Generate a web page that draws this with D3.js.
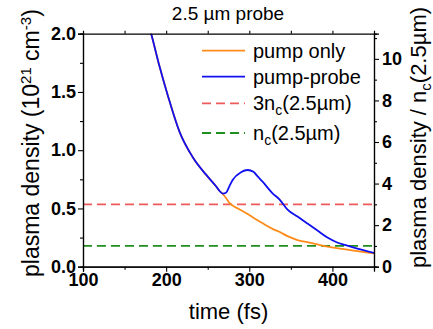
<!DOCTYPE html>
<html>
<head>
<meta charset="utf-8">
<script src="https://cdn.jsdelivr.net/npm/d3@7"></script>
<style>
  body { margin: 0; background: #fff; }
  svg text { font-family: "Liberation Sans", Arial, sans-serif; }
</style>
</head>
<body>
<svg id="chart" width="433" height="329"></svg>
<script>
// time axis (fs), shared by both curves
const timeFs = [178, 182, 192, 202, 216, 232, 248, 260, 264, 268, 272, 276, 280, 290, 298,
  305, 310, 316, 328, 336, 346, 358, 370, 382, 394, 405, 416, 430, 450];
// plasma density, 10^21 cm^-3
const pumpProbe = [2.10, 2.00, 1.72, 1.47, 1.16, 0.94, 0.79, 0.69, 0.652, 0.628, 0.635, 0.69, 0.745, 0.81, 0.83,
  0.815, 0.775, 0.73, 0.63, 0.58, 0.49, 0.43, 0.37, 0.31, 0.25, 0.21, 0.185, 0.155, 0.118];
const pumpOnly = [2.10, 2.00, 1.72, 1.47, 1.16, 0.94, 0.79, 0.69, 0.652, 0.625, 0.59, 0.548, 0.525, 0.485, 0.452,
  0.42, 0.398, 0.373, 0.325, 0.30, 0.262, 0.229, 0.21, 0.192, 0.172, 0.16, 0.148, 0.134, 0.114];
const nc = 0.1784;            // critical density at 2.5 um
const refLevels = [3 * nc, nc];

const xTicks = [100, 200, 300, 400];
const yTicks = [0, 0.5, 1.0, 1.5, 2.0];
const y2Ticks = [0, 2, 4, 6, 8, 10];

const margin = { top: 33.7, right: 59, bottom: 62.3, left: 83 };
const width = 433 - margin.left - margin.right;
const height = 329 - margin.top - margin.bottom;

const svg = d3.select('#chart');
const g = svg.append('g').attr('transform', `translate(${margin.left},${margin.top})`);

const x = d3.scaleLinear().domain([100, 450]).range([0, width]);
const y = d3.scaleLinear().domain([0, 2]).range([height, 0]);
const y2 = d3.scaleLinear().domain([0, 2 / nc]).range([height, 0]);

g.append('clipPath').attr('id', 'clip')
  .append('rect').attr('width', width).attr('height', height);

// reference levels
const refColors = ['#ef5a5a', '#1f8f1f'];
g.selectAll('.ref').data(refLevels).enter().append('line')
  .attr('x1', 0).attr('x2', width)
  .attr('y1', d => y(d)).attr('y2', d => y(d))
  .attr('stroke', (d, i) => refColors[i])
  .attr('stroke-width', 1.6)
  .attr('stroke-dasharray', '9,5');

const line = vals => d3.line()
  .x((d, i) => x(timeFs[i]))
  .y(d => y(d))
  .curve(d3.curveMonotoneX)(vals);

const plot = g.append('g').attr('clip-path', 'url(#clip)');
plot.append('path').attr('d', line(pumpOnly))
  .attr('fill', 'none').attr('stroke', '#ff8c1a').attr('stroke-width', 1.8);
plot.append('path').attr('d', line(pumpProbe))
  .attr('fill', 'none').attr('stroke', '#1010f0').attr('stroke-width', 1.8);

// axes
const styleAxis = sel => {
  sel.select('.domain').attr('stroke', '#000').attr('stroke-width', 1.2);
  sel.selectAll('.tick line').attr('stroke', '#000').attr('stroke-width', 1.1);
  sel.selectAll('text').attr('font-size', 18).attr('font-weight', 'bold').attr('fill', '#000');
};

const minor = (ax, ticks) => ax.tickValues(ticks).tickSize(3).tickFormat('');

g.append('g').attr('transform', `translate(0,${height})`)
  .call(minor(d3.axisBottom(x), [150, 250, 350])).call(styleAxis);
g.append('g').attr('transform', `translate(0,${height})`)
  .call(d3.axisBottom(x).tickValues(xTicks).tickSize(5).tickPadding(2).tickFormat(d3.format('d')))
  .call(styleAxis);

g.append('g').call(minor(d3.axisTop(x), [150, 200, 250, 300, 350, 400])).call(styleAxis);

g.append('g').call(minor(d3.axisLeft(y), [0.25, 0.75, 1.25, 1.75])).call(styleAxis);
g.append('g')
  .call(d3.axisLeft(y).tickValues(yTicks).tickSize(5).tickPadding(2).tickFormat(d3.format('.1f')))
  .call(styleAxis);

g.append('g').attr('transform', `translate(${width},0)`)
  .call(minor(d3.axisRight(y2), [1, 3, 5, 7, 9, 11])).call(styleAxis);
g.append('g').attr('transform', `translate(${width},0)`)
  .call(d3.axisRight(y2).tickValues(y2Ticks).tickSize(5).tickPadding(3).tickFormat(d3.format('d')))
  .call(styleAxis);

// titles
svg.append('text').attr('x', 228).attr('y', 20).attr('text-anchor', 'middle')
  .attr('font-size', 19).text('2.5 \u00b5m probe');

svg.append('text').attr('x', margin.left + width / 2).attr('y', 319)
  .attr('text-anchor', 'middle').attr('font-size', 22).text('time (fs)');

const yt = svg.append('text')
  .attr('transform', 'translate(39,277) rotate(-90)')
  .attr('text-anchor', 'start').attr('font-size', 23);
yt.append('tspan').text('plasma density (10');
yt.append('tspan').attr('dy', -8).attr('font-size', 15).text('21');
yt.append('tspan').attr('dy', 8).text(' cm');
yt.append('tspan').attr('dy', -8).attr('font-size', 15).text('-3');
yt.append('tspan').attr('dy', 8).text(')');

const y2t = svg.append('text')
  .attr('transform', 'translate(426,268) rotate(-90)')
  .attr('text-anchor', 'start').attr('font-size', 22);
y2t.append('tspan').text('plasma density / n');
y2t.append('tspan').attr('dy', 5).attr('font-size', 15).text('c');
y2t.append('tspan').attr('dy', -5).text('(2.5\u00b5m)');

// legend
const legendItems = [
  { label: ['pump only'], color: '#ff8c1a', dash: null },
  { label: ['pump-probe'], color: '#1010f0', dash: null },
  { label: ['3n', 'c', '(2.5\u00b5m)'], color: '#ef5a5a', dash: '9,5' },
  { label: ['n', 'c', '(2.5\u00b5m)'], color: '#1f8f1f', dash: '9,5' }
];
const legendY = [50.7, 76.7, 103.3, 133];
const leg = svg.append('g').selectAll('g').data(legendItems).enter().append('g')
  .attr('transform', (d, i) => `translate(202,${legendY[i]})`);
leg.append('line').attr('x1', 0).attr('x2', 43)
  .attr('stroke', d => d.color).attr('stroke-width', 1.8)
  .attr('stroke-dasharray', d => d.dash);
leg.each(function(d) {
  const t = d3.select(this).append('text').attr('x', 51).attr('y', 7).attr('font-size', 20);
  t.append('tspan').text(d.label[0]);
  if (d.label.length > 1) {
    t.append('tspan').attr('dy', 5).attr('font-size', 14).text(d.label[1]);
    t.append('tspan').attr('dy', -5).text(d.label[2]);
  }
});
</script>
</body>
</html>
